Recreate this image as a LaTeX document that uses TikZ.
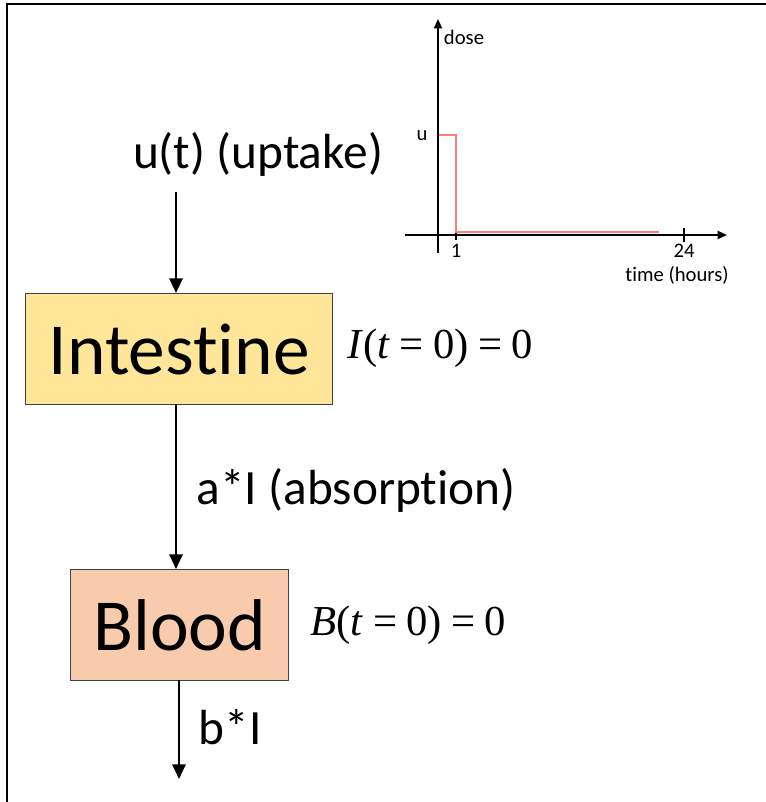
\documentclass[tikz,border=0pt]{standalone}
\usepackage{fontspec}
\setmainfont[Ligatures={NoCommon,NoRare,NoContextual}]{Carlito}
\newfontfamily\tms{Liberation Serif}
\usetikzlibrary{arrows.meta}
\definecolor{intfill}{HTML}{FFE699}
\definecolor{bldfill}{HTML}{F8CBAD}
\definecolor{dosered}{HTML}{FF7C80}
\definecolor{boxline}{HTML}{404040}
\begin{document}
\begin{tikzpicture}[x=0.75pt,y=-0.75pt,
  compbox/.style={draw=boxline,line width=1pt,inner sep=0pt,anchor=north west},
  flow/.style={line width=1.5pt,-{Triangle[width=10pt,length=11pt]}},
  axis/.style={line width=1.5pt,-{Triangle[width=6pt,length=7pt]}},
  bigtxt/.style={font=\fontsize{55}{60}\selectfont},
  lbl/.style={font=\fontsize{37}{42}\selectfont},
  small/.style={font=\fontsize{15.5}{17}\selectfont},
  eq/.style={font=\fontsize{32}{36}\selectfont\tms}]
\useasboundingbox (0,0) rectangle (766,802);
% frame
\draw[line width=2.2pt] (7,803) -- (7,4) -- (767,4);
% boxes
\node[compbox,fill=intfill,minimum width=307pt*0.75,minimum height=111pt*0.75] (int) at (25,293) {};
\node[bigtxt] (inttxt) at (int.center) {Intestine};
\node[compbox,fill=bldfill,minimum width=218pt*0.75,minimum height=111pt*0.75] (bld) at (70,569) {};
\node[bigtxt] (bldtxt) at (bld.center) {Blood};
% input
\node[lbl] (up) at (258,154) {u(t) (uptake)};
\coordinate (upstart) at (176,192);
\coordinate (outend) at (179,779);
\draw[flow] (upstart) -- (upstart |- int.north);
\draw[flow] (176,404) -- (176,569);
\draw[flow] (179,680) -- (outend);
\node[lbl,anchor=west] (abs) at (192,490) {a*I (absorption)};
\node[lbl,anchor=west] (elim) at (194,727) {b*I};
% initial conditions
\node[eq,anchor=west] (ic1) at (343,348) {\textit{I}(\textit{t}\hspace{0.22em}=\hspace{0.22em}0)\hspace{0.22em}=\hspace{0.22em}0};
\node[eq,anchor=west] (ic2) at (306,625) {\textit{B}(\textit{t}\hspace{0.22em}=\hspace{0.22em}0)\hspace{0.22em}=\hspace{0.22em}0};
% dose chart
\coordinate (yb) at (438,253);
\coordinate (yt) at (438,19);
\coordinate (xl) at (405,235);
\coordinate (xr) at (727,235);
\draw[axis] (yb) -- (yt);
\draw[axis] (xl) -- (xr);
\draw[line width=1.5pt] (684,228) -- (684,242);
\draw[line width=1.2pt] (456,231) -- (456,240);
\draw[dosered,line width=1.8pt] (439,135) -- (456,135) -- (456,232) -- (659,232);
\node[small] (dl) at (464,37) {dose};
\node[small] (ul) at (422,136) {u};
\node[small] (t1) at (456,251) {1};
\node[small] (t24) at (684,251) {24};
\node[small] (tl) at (677,275) {time (hours)};
\end{tikzpicture}
\end{document}
